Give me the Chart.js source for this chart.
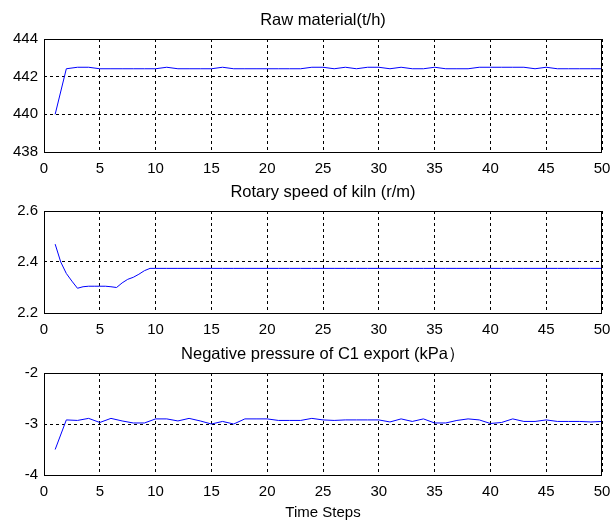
<!DOCTYPE html>
<html>
<head>
<meta charset="utf-8">
<script src="https://cdn.jsdelivr.net/npm/chart.js@4/dist/chart.umd.min.js"></script>
<style>
    body { margin:0; background:#fff; }
    #wrap { position:relative; width:611px; height:520px; overflow:hidden; }
    .panel { position:absolute; left:0; width:611px; }
</style>
</head>
<body>
<div id="wrap">
    <div class="panel" style="top:9px;"><canvas id="c1" width="611" height="183"></canvas></div>
    <div class="panel" style="top:181px;"><canvas id="c2" width="611" height="172"></canvas></div>
    <div class="panel" style="top:343px;"><canvas id="c3" width="611" height="177"></canvas></div>
</div>
<script>
// --- DATA ---
const timeSteps = [1, 2, 3, 4, 5, 6, 7, 8, 9, 10, 11, 12, 13, 14, 15, 16, 17, 18, 19, 20,
    21, 22, 23, 24, 25, 26, 27, 28, 29, 30, 31, 32, 33, 34, 35, 36, 37, 38, 39, 40,
    41, 42, 43, 44, 45, 46, 47, 48, 49, 50];

const rawMaterial = [440, 442.42, 442.5, 442.5, 442.42, 442.42, 442.42, 442.42, 442.42, 442.42,
    442.5, 442.42, 442.42, 442.42, 442.42, 442.5, 442.42, 442.42, 442.42, 442.42,
    442.42, 442.42, 442.42, 442.5, 442.5, 442.42, 442.5, 442.42, 442.5, 442.5,
    442.42, 442.5, 442.42, 442.42, 442.5, 442.42, 442.42, 442.42, 442.5, 442.5,
    442.5, 442.5, 442.5, 442.42, 442.5, 442.42, 442.42, 442.42, 442.42, 442.42];

// kiln speed is sampled on half steps while it settles
const speedSteps = [1, 1.5, 2, 2.5, 3, 3.5, 4, 4.5, 5, 5.5, 6, 6.5, 7, 7.5, 8, 8.5, 9, 9.5, 10,
    11, 12, 13, 14, 15, 16, 17, 18, 19, 20, 21, 22, 23, 24, 25, 26, 27, 28, 29, 30,
    31, 32, 33, 34, 35, 36, 37, 38, 39, 40, 41, 42, 43, 44, 45, 46, 47, 48, 49, 50];
const kilnSpeed = [2.47, 2.40, 2.355, 2.325, 2.297, 2.303, 2.305, 2.305, 2.305, 2.305, 2.303, 2.30, 2.318, 2.332, 2.34, 2.352, 2.366, 2.375, 2.375,
    2.375, 2.375, 2.375, 2.375, 2.375, 2.375, 2.375, 2.375, 2.375, 2.375, 2.375, 2.375, 2.375, 2.375, 2.375, 2.375, 2.375, 2.375, 2.375, 2.375,
    2.375, 2.375, 2.375, 2.375, 2.375, 2.375, 2.375, 2.375, 2.375, 2.375, 2.375, 2.375, 2.375, 2.375, 2.375, 2.375, 2.375, 2.375, 2.375, 2.375];

const pressureC1 = [-3.5, -2.92, -2.93, -2.89, -2.97, -2.89, -2.94, -2.98, -2.98, -2.90,
    -2.90, -2.94, -2.89, -2.94, -3.00, -2.95, -3.00, -2.90, -2.90, -2.90,
    -2.93, -2.93, -2.93, -2.89, -2.92, -2.93, -2.92, -2.92, -2.92, -2.92,
    -2.96, -2.90, -2.95, -2.90, -2.98, -2.98, -2.93, -2.90, -2.92, -2.99,
    -2.97, -2.90, -2.95, -2.95, -2.92, -2.95, -2.95, -2.95, -2.96, -2.95];

const xTicks = [0, 5, 10, 15, 20, 25, 30, 35, 40, 45, 50];

Chart.defaults.font.family = "'Liberation Sans', Arial, sans-serif";
Chart.defaults.color = '#000';

// solid frame round the plot area (matlab box on)
const boxPlugin = {
    id: 'box',
    afterDraw(chart) {
        const { ctx, chartArea: a } = chart;
        ctx.save();
        ctx.strokeStyle = '#000';
        ctx.lineWidth = 1;
        ctx.strokeRect(a.left + 0.5, a.top + 0.5, a.right - a.left - 1, a.bottom - a.top);
        ctx.restore();
    }
};

function makeChart(canvasId, title, xs, ys, yMin, yMax, yStep, xTitle, xBlock) {
    const ctx = document.getElementById(canvasId).getContext('2d');
    return new Chart(ctx, {
        type: 'line',
        data: {
            datasets: [{
                xAxisID: 'x',
                yAxisID: 'y',
                data: xs.map((x, i) => ({ x: x, y: ys[i] })),
                borderColor: '#0000ff',
                borderWidth: 1,
                pointRadius: 0,
                tension: 0,
                fill: false
            }]
        },
        options: {
            responsive: false,
            animation: false,
            layout: { padding: { left: 0, right: 9, top: 0, bottom: 0 } },
            plugins: {
                legend: { display: false },
                tooltip: { enabled: false }
            },
            scales: {
                // top axis only carries the subplot title, centred on the plot area
                top: {
                    type: 'linear',
                    position: 'top',
                    min: 0,
                    max: 50,
                    afterFit: (s) => { s.height = 30; },
                    grid: { display: false },
                    border: { display: false },
                    ticks: { display: false },
                    title: {
                        display: true,
                        text: title,
                        font: { size: 16.5, lineHeight: '16px' },
                        padding: { top: 3, bottom: 0 }
                    }
                },
                x: {
                    type: 'linear',
                    position: 'bottom',
                    min: 0,
                    max: 50,
                    afterBuildTicks: (s) => { s.ticks = xTicks.map(v => ({ value: v })); },
                    afterFit: (s) => { s.height = xBlock; s.paddingLeft = 0; s.paddingRight = 0; },
                    grid: { color: '#000', lineWidth: 1, drawTicks: false },
                    border: { display: false, dash: [3, 3] },
                    ticks: { font: { size: 15 }, padding: 8, maxRotation: 0, autoSkip: false },
                    title: {
                        display: !!xTitle,
                        text: xTitle || '',
                        font: { size: 15, lineHeight: '14px' },
                        padding: { top: 0, bottom: 0 }
                    }
                },
                y: {
                    position: 'left',
                    min: yMin,
                    max: yMax,
                    afterFit: (s) => { s.width = 44; },
                    grid: { color: '#000', lineWidth: 1, drawTicks: false },
                    border: { display: false, dash: [3, 3] },
                    ticks: { stepSize: yStep, font: { size: 15 }, padding: 6 }
                }
            }
        },
        plugins: [boxPlugin]
    });
}

makeChart('c1', 'Raw material(t/h)', timeSteps, rawMaterial, 438, 444, 2, null, 40);
makeChart('c2', 'Rotary speed of kiln (r/m)', speedSteps, kilnSpeed, 2.2, 2.6, 0.2, null, 40);
makeChart('c3', 'Negative pressure of C1 export (kPa\uFF09', timeSteps, pressureC1, -4, -2, 1, 'Time Steps', 45);
</script>
</body>
</html>
